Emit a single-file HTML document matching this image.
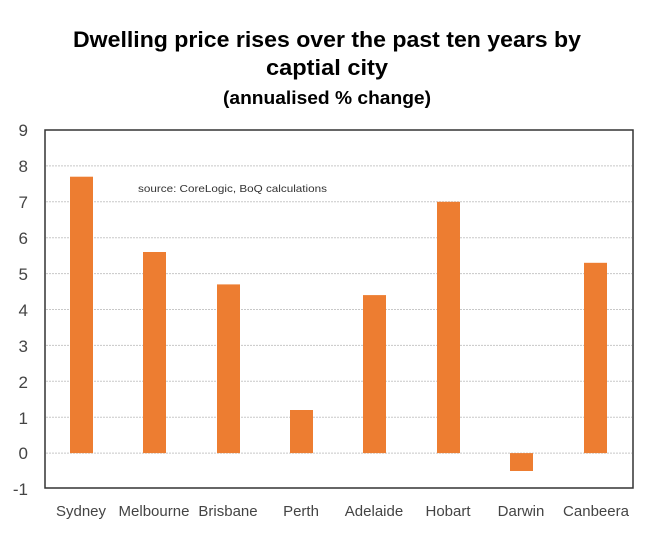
<!DOCTYPE html><html><head><style>body{margin:0;background:#fff}</style></head><body>
<svg width="654" height="536" xmlns="http://www.w3.org/2000/svg" font-family="Liberation Sans, Arial, sans-serif">
<rect width="654" height="536" fill="#fff"/>
<text x="327" y="47" text-anchor="middle" font-size="22" font-weight="bold" textLength="508" lengthAdjust="spacingAndGlyphs">Dwelling price rises over the past ten years by</text>
<text x="327" y="75" text-anchor="middle" font-size="22" font-weight="bold" textLength="122" lengthAdjust="spacingAndGlyphs">captial city</text>
<text x="327" y="104" text-anchor="middle" font-size="18" font-weight="bold" textLength="208" lengthAdjust="spacingAndGlyphs">(annualised % change)</text>
<g stroke="#c8c8c8" stroke-dasharray="2,1" stroke-width="1">
<line x1="46" x2="632" y1="165.9" y2="165.9"/><line x1="46" x2="632" y1="201.8" y2="201.8"/><line x1="46" x2="632" y1="237.7" y2="237.7"/><line x1="46" x2="632" y1="273.6" y2="273.6"/><line x1="46" x2="632" y1="309.5" y2="309.5"/><line x1="46" x2="632" y1="345.4" y2="345.4"/><line x1="46" x2="632" y1="381.3" y2="381.3"/><line x1="46" x2="632" y1="417.2" y2="417.2"/><line x1="46" x2="632" y1="453.1" y2="453.1"/>
</g>
<g fill="#ed7d31">
<rect x="70" y="176.7" width="23" height="276.4"/>
<rect x="143" y="252" width="23" height="201.1"/>
<rect x="217" y="284.4" width="23" height="168.7"/>
<rect x="290" y="410" width="23" height="43.1"/>
<rect x="363" y="295.1" width="23" height="158"/>
<rect x="437" y="201.8" width="23" height="251.3"/>
<rect x="510" y="453.1" width="23" height="17.9"/>
<rect x="584" y="262.8" width="23" height="190.3"/>
</g>
<rect x="45" y="130" width="588" height="358" fill="none" stroke="#333" stroke-width="1.5"/>
<g font-size="17" fill="#444" text-anchor="end">
<text x="28" y="136">9</text><text x="28" y="172">8</text><text x="28" y="208">7</text><text x="28" y="244">6</text><text x="28" y="280">5</text><text x="28" y="316">4</text><text x="28" y="352">3</text><text x="28" y="388">2</text><text x="28" y="424">1</text><text x="28" y="459">0</text><text x="28" y="495">-1</text>
</g>
<g font-size="15" fill="#444" text-anchor="middle">
<text x="81" y="516">Sydney</text><text x="154" y="516">Melbourne</text><text x="228" y="516">Brisbane</text><text x="301" y="516">Perth</text><text x="374" y="516">Adelaide</text><text x="448" y="516">Hobart</text><text x="521" y="516">Darwin</text><text x="596" y="516">Canbeera</text>
</g>
<text x="138" y="192" font-size="10.5" fill="#333" textLength="189" lengthAdjust="spacingAndGlyphs">source:  CoreLogic, BoQ calculations</text>
</svg>
</body></html>
